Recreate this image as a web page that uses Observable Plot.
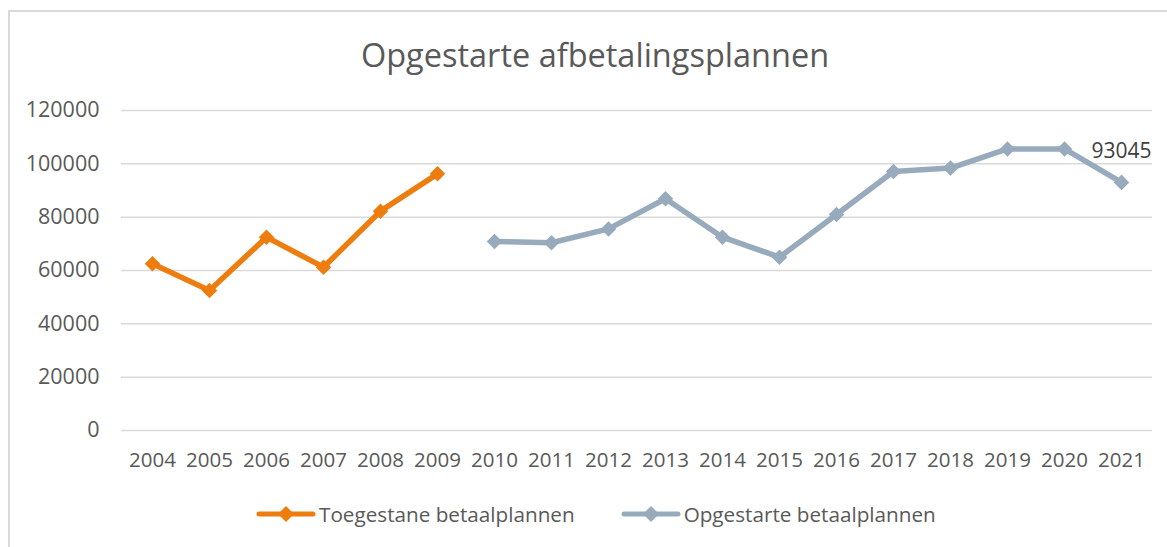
<!DOCTYPE html>
<html>
<head>
<meta charset="utf-8">
<script src="https://cdn.jsdelivr.net/npm/d3@7"></script>
<script src="https://cdn.jsdelivr.net/npm/@observablehq/plot@0.6"></script>
<style>
  html, body { margin: 0; padding: 0; background: #fff; overflow: hidden; width: 1167px; height: 547px; }
  body { position: relative; font-family: "Open Sans", "Noto Sans", sans-serif; color: #595959; }
  #frame { position: absolute; left: 8px; top: 10px; width: 1300px; height: 700px; border-top: 2px solid #d9d9d9; border-left: 2px solid #d9d9d9; }
  #title { position: absolute; left: 0; width: 1190px; top: 32px; text-align: center; font-size: 32.5px; color: #595959; }
  #chart { position: absolute; left: 0; top: 0; }
  #legend { position: absolute; top: 500px; left: 256px; display: flex; font-size: 20.7px; color: #595959; align-items: center; }
  .item { display: flex; align-items: center; }
  .item svg { margin-right: 3px; }
</style>
</head>
<body>
<div id="frame"></div>
<div id="chart"></div>
<div id="title">Opgestarte afbetalingsplannen</div>
<div id="legend"></div>
<script>
const years = ["2004","2005","2006","2007","2008","2009","2010","2011","2012","2013","2014","2015","2016","2017","2018","2019","2020","2021"];
const toegestaneYears = ["2004","2005","2006","2007","2008","2009"];
const toegestane = [62500, 52500, 72500, 61250, 82250, 96250];
const opgestarteYears = ["2010","2011","2012","2013","2014","2015","2016","2017","2018","2019","2020","2021"];
const opgestarte = [70900, 70400, 75600, 86900, 72500, 65000, 81000, 97100, 98400, 105600, 105600, 93045];
const yTicks = [0, 20000, 40000, 60000, 80000, 100000, 120000];
const seriesNames = ["Toegestane betaalplannen", "Opgestarte betaalplannen"];
const colors = ["#ED7D0E", "#97ABBD"];

const dataA = toegestaneYears.map((y, i) => ({year: y, value: toegestane[i], series: seriesNames[0]}));
const dataB = opgestarteYears.map((y, i) => ({year: y, value: opgestarte[i], series: seriesNames[1]}));
const lastB = dataB[dataB.length - 1];

const chart = Plot.plot({
  width: 1167,
  height: 490,
  marginLeft: 121,
  marginRight: 15,
  marginTop: 110,
  marginBottom: 60,
  style: {fontFamily: '"Open Sans", "Noto Sans", sans-serif', fontSize: "20px", color: "#595959", background: "transparent"},
  x: {type: "point", domain: years, padding: 0.5, label: null},
  y: {domain: [0, 120000], ticks: yTicks, label: null},
  marks: [
    Plot.ruleY(yTicks, {stroke: "#d9d9d9", strokeWidth: 1.5}),
    Plot.axisX({tickSize: 0, tickPadding: 22, fontSize: 20.5, fill: "#595959", label: null}),
    Plot.axisY({ticks: yTicks, tickSize: 0, tickPadding: 22, fontSize: 21.5, fill: "#595959", tickFormat: d => String(d), label: null}),
    Plot.line(dataA, {x: "year", y: "value", stroke: colors[0], strokeWidth: 5.5}),
    Plot.dot(dataA, {x: "year", y: "value", fill: colors[0], symbol: "diamond2", r: 7}),
    Plot.line(dataB, {x: "year", y: "value", stroke: colors[1], strokeWidth: 5.5}),
    Plot.dot(dataB, {x: "year", y: "value", fill: colors[1], symbol: "diamond2", r: 7}),
    Plot.text([lastB], {x: "year", y: "value", text: d => String(d.value), dy: -31, fontSize: 21, fill: "#404040"})
  ]
});
document.getElementById("chart").appendChild(chart);

const legend = document.getElementById("legend");
seriesNames.forEach((name, i) => {
  const item = document.createElement("div");
  item.className = "item";
  item.style.marginRight = i === 0 ? "46px" : "0";
  item.innerHTML = `<svg width="60" height="18"><line x1="3" y1="9" x2="57" y2="9" stroke="${colors[i]}" stroke-width="5" stroke-linecap="round"/><path d="M30,1 L38,9 L30,17 L22,9 Z" fill="${colors[i]}"/></svg><span>${name}</span>`;
  legend.appendChild(item);
});
</script>
</body>
</html>
